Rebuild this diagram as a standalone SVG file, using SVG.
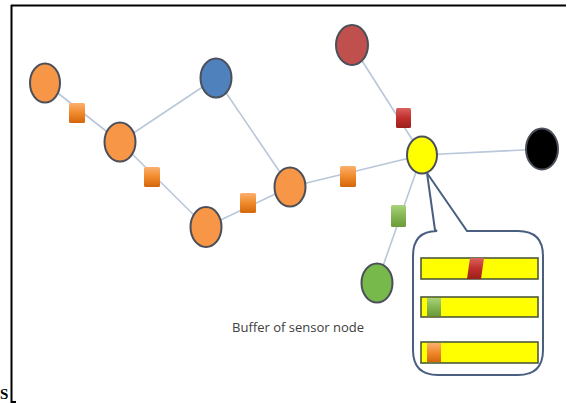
<svg xmlns="http://www.w3.org/2000/svg" width="567" height="403" viewBox="0 0 567 403">
<defs>
<linearGradient id="gOr" x1="0" y1="0" x2="0" y2="1"><stop offset="0" stop-color="#fbb06e"/><stop offset="0.5" stop-color="#f08a2c"/><stop offset="1" stop-color="#d4660c"/></linearGradient>
<linearGradient id="gRd" x1="0" y1="0" x2="0" y2="1"><stop offset="0" stop-color="#d9615e"/><stop offset="0.5" stop-color="#c0302c"/><stop offset="1" stop-color="#9c1f1c"/></linearGradient>
<linearGradient id="gGr" x1="0" y1="0" x2="0" y2="1"><stop offset="0" stop-color="#a9d27c"/><stop offset="0.5" stop-color="#86b652"/><stop offset="1" stop-color="#6a9a3a"/></linearGradient>
<style>
.edge{stroke:#b9c7da;stroke-width:1.6;fill:none}
.node{stroke:#4a4f5a;stroke-width:2}
.sq{stroke:none}
.bar{fill:#ffff00;stroke:#4d5a3a;stroke-width:1.6}
.lbl{font-family:"Open Sans","Liberation Sans",sans-serif;font-size:13.5px;fill:#404040}
</style>
</defs>
<rect width="567" height="403" fill="#ffffff"/>
<g id="frame" stroke="#000" stroke-width="2" fill="none">
<path d="M11 5.5H566"/>
<path d="M11.5 5V402H16"/>
</g>
<text x="0" y="399" font-family="Liberation Serif,serif" font-weight="bold" font-size="15" fill="#000">S</text>
<g id="connectors">
<line class="edge" x1="45" y1="83" x2="120" y2="142"/>
<line class="edge" x1="120" y1="142" x2="216" y2="78"/>
<line class="edge" x1="120" y1="142" x2="206" y2="227"/>
<line class="edge" x1="206" y1="227" x2="290" y2="187"/>
<line class="edge" x1="216" y1="78" x2="290" y2="187"/>
<line class="edge" x1="290" y1="187" x2="422" y2="155"/>
<line class="edge" x1="352" y1="45" x2="422" y2="155"/>
<line class="edge" x1="422" y1="155" x2="542" y2="149"/>
<line class="edge" x1="422" y1="155" x2="377" y2="283"/>
</g>
<g id="packets">
<rect class="sq" x="69" y="103" width="16" height="20" rx="1.5" fill="url(#gOr)"/>
<rect class="sq" x="144" y="167" width="16" height="20" rx="1.5" fill="url(#gOr)"/>
<rect class="sq" x="240" y="193" width="16" height="20" rx="1.5" fill="url(#gOr)"/>
<rect class="sq" x="340" y="166" width="16" height="21" rx="1.5" fill="url(#gOr)"/>
<rect class="sq" x="396" y="108" width="15" height="20" rx="1.5" fill="url(#gRd)"/>
<rect class="sq" x="391" y="205" width="15" height="22" rx="1.5" fill="url(#gGr)"/>
</g>
<g id="n1"><ellipse class="node" cx="45" cy="83" rx="15" ry="19.5" fill="#f79646"/></g>
<g id="n2"><ellipse class="node" cx="120" cy="142" rx="15.5" ry="19.5" fill="#f79646"/></g>
<g id="n3"><ellipse class="node" cx="216" cy="78" rx="15.5" ry="19.5" fill="#4f81bd"/></g>
<g id="n4"><ellipse class="node" cx="206" cy="227" rx="15.5" ry="20" fill="#f79646"/></g>
<g id="n5"><ellipse class="node" cx="290" cy="187" rx="15.5" ry="19.5" fill="#f79646"/></g>
<g id="n6"><ellipse class="node" cx="352" cy="45" rx="16" ry="20" fill="#c0504d"/></g>
<g id="n7"><ellipse class="node" cx="422" cy="155" rx="15" ry="18.5" fill="#ffff00" stroke="#5a6a3a"/></g>
<g id="n8"><ellipse class="node" cx="542" cy="149" rx="16" ry="20.5" fill="#000000" stroke="#1a1a1a"/></g>
<g id="n9"><ellipse class="node" cx="377" cy="283" rx="15.5" ry="19.5" fill="#77b94a" stroke="#3f5a52"/></g>
<g id="callout">
<path d="M427 173 L435 230 L437 231 Q413 231 413 256 V350 Q413 375 438 375 H518 Q543 375 543 350 V256 Q543 231 518 231 H467 L427 173" fill="#ffffff" stroke="#4a5f80" stroke-width="2"/>
<rect class="bar" x="421" y="258" width="117" height="21"/>
<path d="M470 258 H484 L481 279 H467 Z" fill="url(#gRd)"/>
<rect class="bar" x="421" y="297" width="117" height="20"/>
<rect x="427" y="298" width="14" height="18" fill="url(#gGr)"/>
<rect class="bar" x="421" y="342" width="117" height="21"/>
<rect x="427" y="343" width="14" height="19" fill="url(#gOr)"/>
</g>
<text class="lbl" x="232" y="332" textLength="132" lengthAdjust="spacingAndGlyphs">Buffer of sensor node</text>
</svg>
